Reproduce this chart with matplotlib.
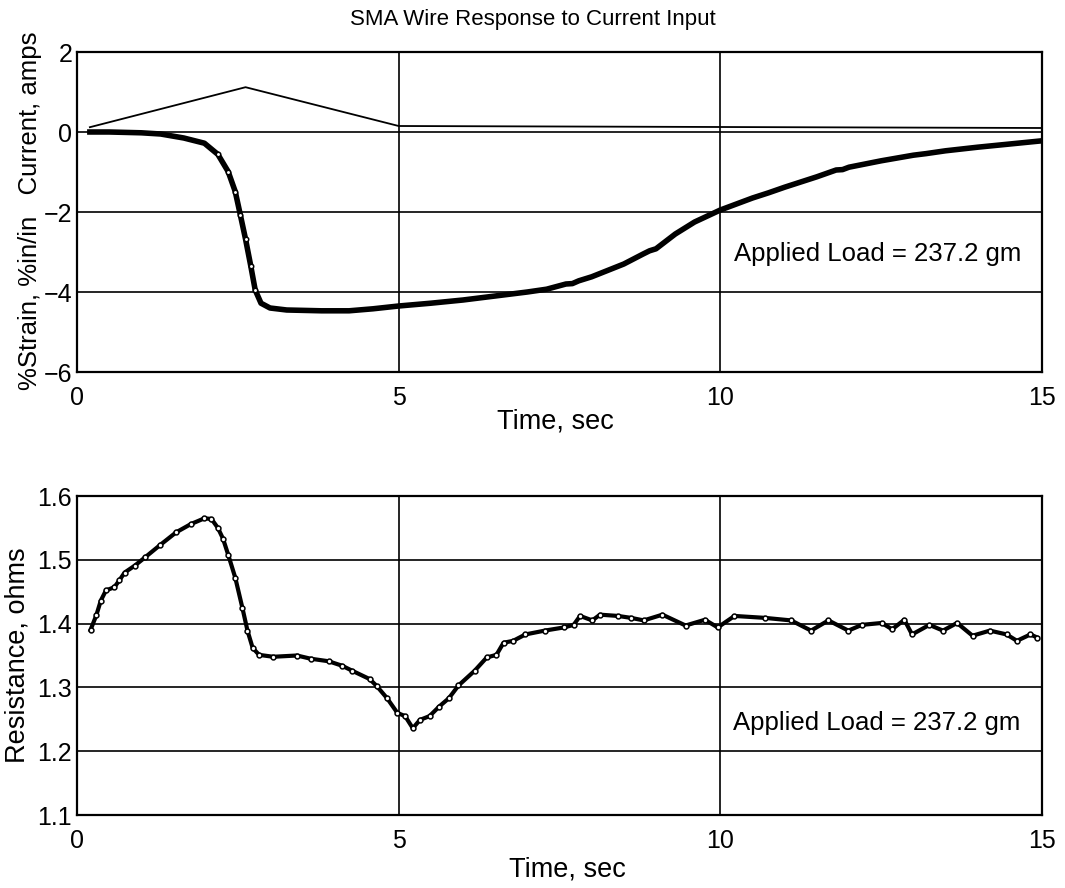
import numpy as np
import matplotlib
matplotlib.use("Agg")
import matplotlib.pyplot as plt

plt.rcParams["font.family"] = ["Liberation Sans", "DejaVu Sans"]

# current input, amps
current_t = [0.2, 2.62, 5.0, 15.0]
current_a = [0.12, 1.12, 0.15, 0.1]

# strain, %in/in
strain_t = [0.2, 0.5, 1.0, 1.3, 1.66, 1.98, 2.19, 2.35, 2.46, 2.54, 2.62,
            2.70, 2.77, 2.86, 3.0, 3.26, 3.8, 4.23, 4.6, 5.0, 5.5, 6.0, 6.5,
            7.0, 7.3, 7.6, 7.7, 7.8, 8.0, 8.5, 8.8, 8.9, 9.0, 9.3, 9.6, 10.0,
            10.5, 10.75, 11.0, 11.5, 11.8, 11.9, 12.0, 12.5, 13.0, 13.2, 13.5,
            14.0, 14.5, 15.0]
strain_v = [0.0, 0.0, -0.02, -0.05, -0.15, -0.28, -0.56, -0.99, -1.49, -2.08,
            -2.68, -3.34, -3.95, -4.28, -4.40, -4.45, -4.47, -4.47, -4.42,
            -4.35, -4.28, -4.2, -4.1, -4.0, -3.93, -3.80, -3.79, -3.72, -3.62,
            -3.3, -3.05, -2.97, -2.92, -2.55, -2.25, -1.95, -1.65, -1.52,
            -1.38, -1.12, -0.95, -0.94, -0.88, -0.72, -0.58, -0.54, -0.47,
            -0.38, -0.30, -0.22]

# resistance, ohms
res_t = [0.21, 0.30, 0.37, 0.45, 0.58, 0.66, 0.74, 0.90, 1.06, 1.29, 1.54,
         1.77, 1.98, 2.09, 2.19, 2.27, 2.35, 2.46, 2.57, 2.65, 2.73, 2.83,
         3.05, 3.42, 3.63, 3.91, 4.12, 4.28, 4.55, 4.66, 4.82, 4.98, 5.1,
         5.22, 5.33, 5.48, 5.63, 5.78, 5.93, 6.18, 6.37, 6.52, 6.63, 6.78,
         6.97, 7.27, 7.57, 7.72, 7.82, 8.01, 8.13, 8.41, 8.61, 8.81, 9.10,
         9.46, 9.76, 9.96, 10.22, 10.69, 11.1, 11.41, 11.68, 11.99, 12.2,
         12.51, 12.67, 12.86, 12.98, 13.25, 13.46, 13.68, 13.92, 14.19, 14.45,
         14.61, 14.82, 14.93]
res_ohm = [1.39, 1.413, 1.436, 1.452, 1.457, 1.468, 1.48, 1.491, 1.504, 1.523,
           1.543, 1.556, 1.565, 1.564, 1.55, 1.533, 1.508, 1.472, 1.425,
           1.389, 1.362, 1.351, 1.348, 1.35, 1.345, 1.341, 1.334, 1.326,
           1.313, 1.302, 1.283, 1.26, 1.255, 1.236, 1.249, 1.255, 1.27, 1.283,
           1.303, 1.326, 1.347, 1.351, 1.37, 1.373, 1.383, 1.389, 1.394,
           1.398, 1.412, 1.405, 1.414, 1.412, 1.409, 1.405, 1.414, 1.397,
           1.406, 1.394, 1.412, 1.409, 1.405, 1.389, 1.405, 1.389, 1.398,
           1.401, 1.391, 1.406, 1.383, 1.398, 1.389, 1.401, 1.381, 1.389,
           1.383, 1.373, 1.383, 1.378]

x_ticks = [0, 5, 10, 15]
top_yticks = [-6, -4, -2, 0, 2]
bot_yticks = [1.1, 1.2, 1.3, 1.4, 1.5, 1.6]
load_text = "Applied Load = 237.2 gm"

W, H = 1065, 888
fig = plt.figure(figsize=(W / 100, H / 100), dpi=100)


def px_axes(left, top, right, bottom):
    return fig.add_axes([left / W, 1 - bottom / H, (right - left) / W,
                         (bottom - top) / H])


def style(ax, yticks):
    ax.set_xlim(0, 15)
    ax.set_xticks(x_ticks)
    ax.set_yticks(yticks)
    ax.set_ylim(yticks[0], yticks[-1])
    ax.grid(True, color="black", linewidth=1.2)
    ax.tick_params(length=0, labelsize=18)
    ax.tick_params(axis="x", pad=10)
    ax.tick_params(axis="y", pad=3.5)
    for s in ax.spines.values():
        s.set_linewidth(1.6)


ax1 = px_axes(77, 52, 1042, 372)
style(ax1, top_yticks)
ax1.plot(current_t, current_a, color="black", linewidth=1.3)
# only the fast drop shows separate open circles, elsewhere a solid band
ax1.plot(strain_t, strain_v, color="black", linewidth=4,
         marker="o", markersize=3.2, markerfacecolor="white",
         markeredgecolor="black", markeredgewidth=1.1,
         markevery=list(range(6, 13)))
ax1.text(10.22, -3.06, load_text, fontsize=18.5, va="center", ha="left")

ax2 = px_axes(77, 496, 1042, 815)
style(ax2, bot_yticks)
ax2.set_yticklabels(["{:.1f}".format(v) for v in bot_yticks])
ax2.plot(res_t, res_ohm, color="black", linewidth=3,
         marker="o", markersize=3.5, markerfacecolor="white",
         markeredgecolor="black", markeredgewidth=1.1)
ax2.text(10.19, 1.244, load_text, fontsize=18.5, va="center", ha="left")

fig.text(0.5, 1 - 20 / H, "SMA Wire Response to Current Input",
         fontsize=16, ha="center", va="center")
fig.text(555 / W, 1 - 421 / H, "Time, sec", fontsize=19.5,
         ha="center", va="center")
fig.text(567 / W, 1 - 869 / H, "Time, sec", fontsize=19.5,
         ha="center", va="center")
fig.text(30 / W, 1 - 211 / H, "%Strain, %in/in   Current, amps",
         fontsize=18.5, rotation=90, ha="center", va="center")
fig.text(18 / W, 1 - 655 / H, "Resistance, ohms", fontsize=19.5,
         rotation=90, ha="center", va="center")

fig.savefig("out.png", dpi=100)
